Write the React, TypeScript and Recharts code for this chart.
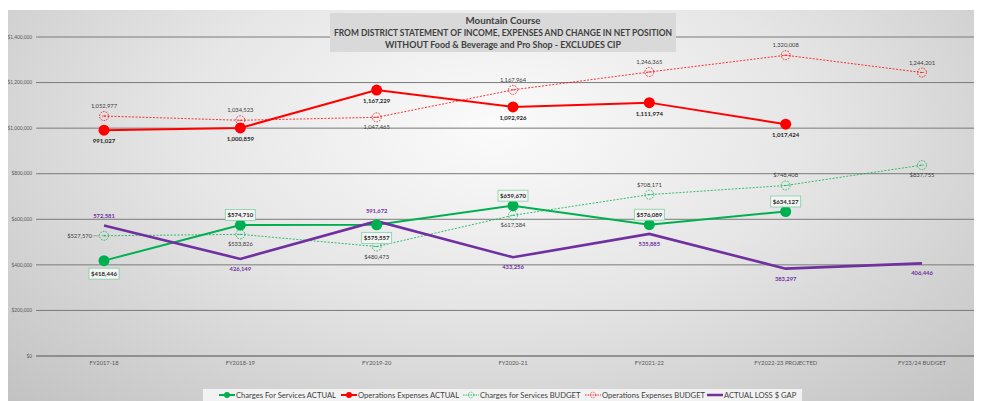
import React from 'react';
import { LineChart, Line, XAxis, YAxis, CartesianGrid, LabelList } from 'recharts';

const categories = ['FY2017-18', 'FY2018-19', 'FY2019-20', 'FY2020-21', 'FY2021-22', 'FY2022-23 PROJECTED', 'FY23/24 BUDGET'];
const chargesActual: (number | null)[] = [418446, 574710, 575557, 659670, 576089, 634127, null];
const opsActual: (number | null)[] = [991027, 1000859, 1167229, 1092926, 1111974, 1017424, null];
const chargesBudget = [527570, 533826, 480473, 617384, 708171, 748408, 837755];
const opsBudget = [1052977, 1034523, 1047465, 1167964, 1246365, 1320008, 1244201];
const lossGap = [572581, 426149, 591672, 433256, 535885, 383297, 406446];
const yTicks = [0, 200000, 400000, 600000, 800000, 1000000, 1200000, 1400000];
const titleLines = [
  'Mountain  Course',
  'FROM DISTRICT STATEMENT OF INCOME, EXPENSES AND CHANGE IN NET POSITION',
  'WITHOUT Food & Beverage and Pro Shop - EXCLUDES CIP',
];
const seriesNames = [
  'Charges For Services ACTUAL',
  'Operations Expenses ACTUAL',
  'Charges for Services BUDGET',
  'Operations Expenses BUDGET',
  'ACTUAL LOSS $ GAP',
];

const data = categories.map((c, i) => ({
  name: c,
  chargesActual: chargesActual[i],
  opsActual: opsActual[i],
  chargesBudget: chargesBudget[i],
  opsBudget: opsBudget[i],
  lossGap: lossGap[i],
}));

// label placement (style)
const placeChargesActual = ['below', 'above', 'below', 'above', 'above', 'above', 'above'];
const placeOpsActual = ['below', 'below', 'below', 'below', 'below', 'below', 'below'];
const placeChargesBudget = ['left', 'below', 'below', 'below', 'above', 'above', 'below'];
const placeOpsBudget = ['above', 'above', 'below', 'above', 'above', 'above', 'above'];
const placeLoss = ['above', 'below', 'above', 'below', 'below', 'below', 'below'];

const GREEN = '#00B050';
const RED = '#FF0000';
const PURPLE = '#7030A0';
const FONT = 'Lato, "Open Sans", sans-serif';

const fmt = (v: number) => v.toLocaleString('en-US');

const textLabel = (place: string[], opts: { color: string; bold?: boolean; prefix?: string; off?: number; size?: number }) => (props: any) => {
  const { x, y, value, index } = props;
  if (value == null) return null;
  const p = place[index];
  const off = opts.off ?? 11;
  const size = opts.size ?? 5.8;
  const txt = (opts.prefix ?? '') + fmt(value);
  if (p === 'left') {
    return (
      <g>
        <line x1={x - 11} y1={y} x2={x - 5} y2={y} stroke="#808080" strokeWidth={0.6} />
        <text x={x - 12} y={y} dy="0.35em" textAnchor="end" fontSize={size} fontFamily={FONT} fill={opts.color} fontWeight={opts.bold ? 700 : 400}>
          {txt}
        </text>
      </g>
    );
  }
  const ty = p === 'above' ? y - off : y + off;
  return (
    <text x={x} y={ty} dy="0.35em" textAnchor="middle" fontSize={size} fontFamily={FONT} fill={opts.color} fontWeight={opts.bold ? 700 : 400}>
      {txt}
    </text>
  );
};

const boxLabel = (place: string[]) => (props: any) => {
  const { x, y, value, index } = props;
  if (value == null) return null;
  const p = place[index];
  const cy = p === 'above' ? y - 10 : y + 13;
  return (
    <g>
      <rect x={x - 15} y={cy - 5.5} width={30} height={11} fill="#f4f4f4" stroke="#7fd1a3" strokeWidth={0.8} />
      <text x={x} y={cy} dy="0.35em" textAnchor="middle" fontSize={6} fontFamily={FONT} fill="#262626" fontWeight={700}>
        {'$' + fmt(value)}
      </text>
    </g>
  );
};

const openDot = (color: string) => (props: any) => {
  const { cx, cy, value, index } = props;
  if (value == null || cx == null || cy == null) return <g key={index} />;
  return (
    <g key={index}>
      <circle cx={cx} cy={cy} r={4.5} fill="none" stroke={color} strokeWidth={0.8} strokeDasharray="1.6 1.2" />
      <line x1={cx - 2} y1={cy} x2={cx + 2} y2={cy} stroke={color} strokeWidth={0.6} />
    </g>
  );
};

const LegendIcon = ({ i }: { i: number }) => {
  const common = { width: 16, height: 8 };
  if (i === 0)
    return (
      <svg {...common}><line x1={0} y1={4} x2={16} y2={4} stroke={GREEN} strokeWidth={2} /><circle cx={8} cy={4} r={3} fill={GREEN} /></svg>
    );
  if (i === 1)
    return (
      <svg {...common}><line x1={0} y1={4} x2={16} y2={4} stroke={RED} strokeWidth={2} /><circle cx={8} cy={4} r={3} fill={RED} /></svg>
    );
  if (i === 2)
    return (
      <svg {...common}><line x1={0} y1={4} x2={16} y2={4} stroke={GREEN} strokeWidth={0.8} strokeDasharray="1.5 1" /><circle cx={8} cy={4} r={2.8} fill="none" stroke={GREEN} strokeWidth={0.7} strokeDasharray="1 0.8" /></svg>
    );
  if (i === 3)
    return (
      <svg {...common}><line x1={0} y1={4} x2={16} y2={4} stroke={RED} strokeWidth={0.8} strokeDasharray="1.5 1" /><circle cx={8} cy={4} r={2.8} fill="none" stroke={RED} strokeWidth={0.7} strokeDasharray="1 0.8" /></svg>
    );
  return (
    <svg {...common}><line x1={0} y1={4} x2={16} y2={4} stroke={PURPLE} strokeWidth={2.5} /></svg>
  );
};

export default function App() {
  return (
    <div
      style={{
        position: 'relative',
        width: 974,
        height: 391,
        marginTop: 2,
        overflow: 'hidden',
        background: 'radial-gradient(ellipse at 50% 30%, #fbfbfb 0%, #e6e6e6 45%, #c2c2c2 100%)',
      }}
    >
      <LineChart width={990} height={391} data={data} margin={{ top: 27, right: 8, bottom: 30, left: 0 }}>
        <CartesianGrid vertical={false} stroke="#7a7a7a" strokeWidth={1} />
        <XAxis
          dataKey="name"
          height={15}
          padding={{ left: 68, right: 68 }}
          tickSize={0}
          tickMargin={5}
          axisLine={{ stroke: '#7a7a7a', strokeWidth: 1.2 }}
          tick={{ fontSize: 5.8, fill: '#595959', fontFamily: FONT }}
          interval={0}
        />
        <YAxis
          domain={[0, 1400000]}
          ticks={yTicks}
          width={28}
          tickSize={0}
          tickMargin={4}
          axisLine={false}
          tick={{ fontSize: 4.8, fill: '#595959', fontFamily: FONT }}
          tickFormatter={(v: number) => '$' + fmt(v)}
        />
        <Line
          dataKey="chargesActual"
          name={seriesNames[0]}
          stroke={GREEN}
          strokeWidth={2}
          dot={{ r: 5.5, fill: GREEN, stroke: GREEN, strokeWidth: 0 }}
          isAnimationActive={false}
        >
          <LabelList dataKey="chargesActual" content={boxLabel(placeChargesActual)} />
        </Line>
        <Line
          dataKey="opsActual"
          name={seriesNames[1]}
          stroke={RED}
          strokeWidth={2}
          dot={{ r: 5.5, fill: RED, stroke: RED, strokeWidth: 0 }}
          isAnimationActive={false}
        >
          <LabelList dataKey="opsActual" content={textLabel(placeOpsActual, { color: '#262626', bold: true, off: 11, size: 6 })} />
        </Line>
        <Line
          dataKey="chargesBudget"
          name={seriesNames[2]}
          stroke={GREEN}
          strokeWidth={0.8}
          strokeDasharray="2 1.5"
          dot={openDot(GREEN)}
          isAnimationActive={false}
        >
          <LabelList dataKey="chargesBudget" content={textLabel(placeChargesBudget, { color: '#404040', prefix: '$', off: 10 })} />
        </Line>
        <Line
          dataKey="opsBudget"
          name={seriesNames[3]}
          stroke={RED}
          strokeWidth={0.8}
          strokeDasharray="2 1.5"
          dot={openDot(RED)}
          isAnimationActive={false}
        >
          <LabelList dataKey="opsBudget" content={textLabel(placeOpsBudget, { color: '#404040', off: 10 })} />
        </Line>
        <Line
          dataKey="lossGap"
          name={seriesNames[4]}
          stroke={PURPLE}
          strokeWidth={2.6}
          dot={false}
          isAnimationActive={false}
        >
          <LabelList dataKey="lossGap" content={textLabel(placeLoss, { color: PURPLE, bold: true, off: 10 })} />
        </Line>
      </LineChart>
      <div
        style={{
          position: 'absolute',
          left: 195,
          top: 379,
          width: 599,
          height: 12,
          display: 'flex',
          alignItems: 'center',
          background: '#f2f2f2',
          paddingLeft: 16,
          boxSizing: 'border-box',
          overflow: 'hidden',
        }}
      >
        {seriesNames.map((n, i) => (
          <div key={n} style={{ display: 'flex', alignItems: 'center', width: 122, flex: 'none' }}>
            <LegendIcon i={i} />
            <span style={{ fontSize: 7.6, lineHeight: '10px', fontFamily: FONT, color: '#404040', marginLeft: 1, whiteSpace: 'nowrap' }}>{n}</span>
          </div>
        ))}
      </div>
      <svg style={{ position: 'absolute', left: 272, top: 3, overflow: 'visible' }} width={446} height={39}>
        <rect x={50} y={0} width={346} height={39} fill="#d9d9d9" />
        <text x={223} y={8} dy="0.35em" textAnchor="middle" fontSize={9.5} fontWeight={700} fill="#404040" fontFamily={FONT} textLength={75} lengthAdjust="spacingAndGlyphs">
          {titleLines[0]}
        </text>
        <text x={223} y={20} dy="0.35em" textAnchor="middle" fontSize={9.5} fontWeight={700} fill="#404040" fontFamily={FONT} textLength={338} lengthAdjust="spacingAndGlyphs">
          {titleLines[1]}
        </text>
        <text x={223} y={32} dy="0.35em" textAnchor="middle" fontSize={9.5} fontWeight={700} fill="#404040" fontFamily={FONT} textLength={236} lengthAdjust="spacingAndGlyphs">
          {titleLines[2]}
        </text>
      </svg>
    </div>
  );
}
